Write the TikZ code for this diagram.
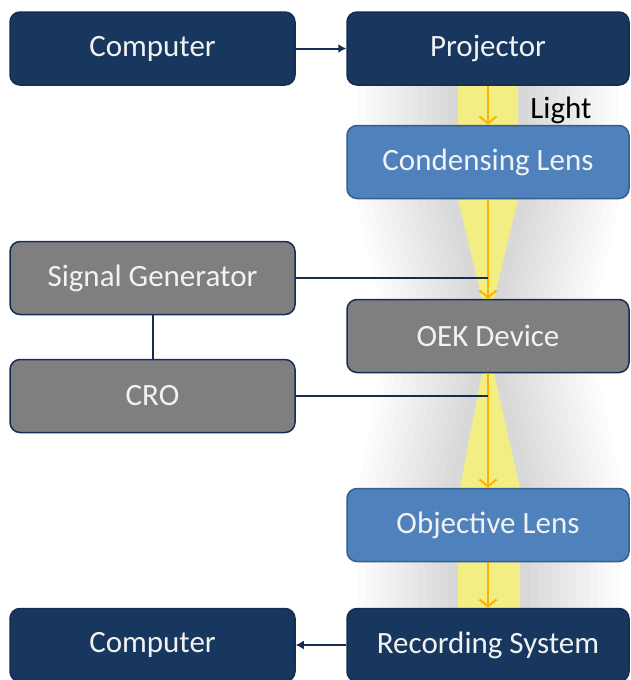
\documentclass[tikz,border=0pt]{standalone}
\usepackage{fontspec}
\setmainfont{Carlito}
\usetikzlibrary{arrows.meta,calc}
\definecolor{navy}{RGB}{23,55,94}
\definecolor{navyline}{RGB}{20,45,80}
\definecolor{lensblue}{RGB}{79,129,189}
\definecolor{lensline}{RGB}{56,93,138}
\definecolor{boxgrey}{RGB}{127,127,127}
\definecolor{beamyellow}{RGB}{242,238,132}
\definecolor{rayorange}{RGB}{255,176,0}
\tikzset{
  box/.style={rounded corners=10pt, minimum height=73pt, line width=1.5pt,
    text=white!95!black, font=\fontsize{31}{36}\selectfont},
  leftbox/.style={box, minimum width=285pt},
  rightbox/.style={box, minimum width=282pt},
  navybox/.style={fill=navy, draw=navyline},
  lensbox/.style={fill=lensblue, draw=lensline},
  greybox/.style={fill=boxgrey, draw=navyline},
  glow/.style={draw=black, line join=round, opacity=0.013},
  ray/.style={draw=rayorange, line width=2pt, -{Straight Barb[length=7pt,width=17pt]}},
  wire/.style={draw=navyline, line width=2pt},
}
\begin{document}
\begin{tikzpicture}[x=1pt,y=-1pt]
  \useasboundingbox (0,0) rectangle (630,680);
  \path
    (152.5,48.5) node[leftbox] (comp1){}
    (488,48.5) node[rightbox] (proj){}
    (488,162) node[rightbox] (cond){}
    (152.5,278) node[leftbox] (siggen){}
    (488,336) node[rightbox] (oek){}
    (152.5,396) node[leftbox] (cro){}
    (488,525) node[rightbox] (obj){}
    (152.5,645) node[leftbox] (comp2){}
    (488,645) node[rightbox] (rec){};
  \def\beams{
    ($(proj.south)+(-30,0)$) rectangle ($(cond.north)+(30,0)$)
    ($(cond.south)+(-30,0)$) -- ($(cond.south)+(30,0)$) -- ($(oek.north)+(6,0)$) -- ($(oek.north)+(-6,0)$) -- cycle
    ($(oek.south)+(-6,0)$) -- ($(oek.south)+(6,0)$) -- ($(obj.north)+(32,0)$) -- ($(obj.north)+(-28,0)$) -- cycle
    ($(obj.south)+(-30,0)$) rectangle ($(rec.north)+(32,0)$)
  }
  \begin{scope}
    \clip (proj.south west) rectangle (rec.north east);
    \foreach \w in {200,185,...,10}
      \path[glow, line width=\w pt] \beams;
  \end{scope}
  \fill[beamyellow] \beams;
  \begin{scope}[every node/.style={}]
    \path
      (comp1) node[leftbox,navybox]{Computer}
      (proj) node[rightbox,navybox]{Projector}
      (cond) node[rightbox,lensbox]{Condensing Lens}
      (siggen) node[leftbox,greybox]{Signal Generator}
      (oek) node[rightbox,greybox]{OEK Device}
      (cro) node[leftbox,greybox]{CRO}
      (obj) node[rightbox,lensbox]{Objective Lens}
      (comp2) node[leftbox,navybox]{Computer}
      (rec) node[rightbox,navybox]{Recording System};
  \end{scope}
  \node[font=\fontsize{31}{36}\selectfont] (light) at (561,110) {Light};
  \coordinate (sigtap) at (siggen.east -| oek.north);
  \coordinate (crotap) at (cro.east -| oek.north);
  \draw[ray] (proj) -- (cond);
  \draw[ray] (cond) -- (oek);
  \draw[ray] (oek) -- (obj);
  \draw[ray] (obj) -- (rec);
  \draw[wire,-{Latex[length=8pt,width=9pt]}] (comp1) -- (proj);
  \draw[wire,-{Latex[length=8pt,width=9pt]}] (rec) -- (comp2);
  \draw[wire] (siggen) -- (cro);
  \draw[wire] (siggen.east) -- (sigtap);
  \draw[wire] (cro.east) -- (crotap);
\end{tikzpicture}
\end{document}
